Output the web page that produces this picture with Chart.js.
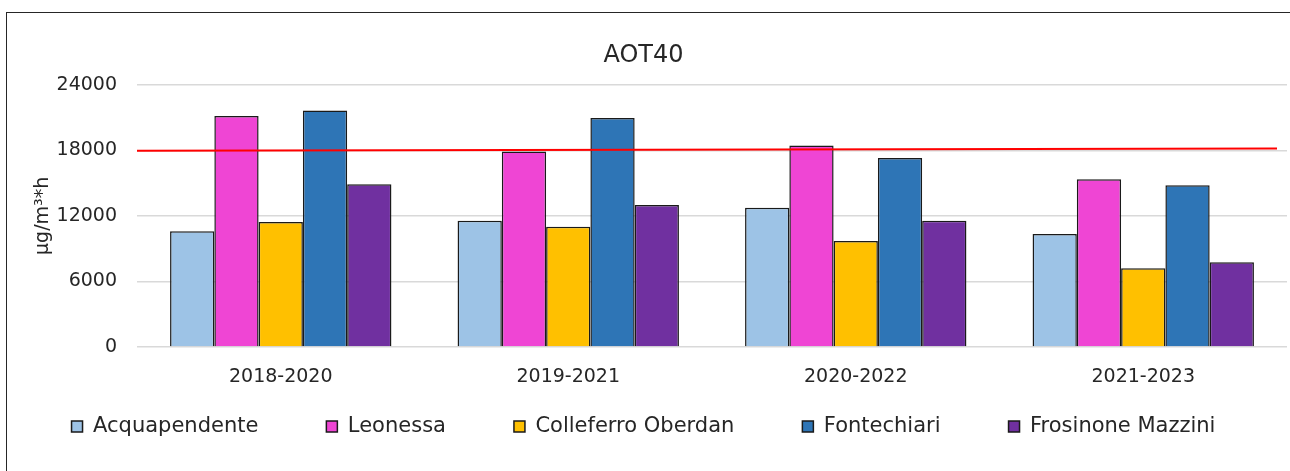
<!DOCTYPE html>
<html>
<head>
<meta charset="utf-8">
<script src="https://cdn.jsdelivr.net/npm/chart.js@4/dist/chart.umd.min.js"></script>
<style>
    body { margin: 0; background: #fff; }
    #marco { position: absolute; left: 0; top: 0; width: 1290px; height: 471px; overflow: hidden; }
    #borde { position: absolute; left: 6px; top: 12px; width: 1300px; height: 500px; border: 1.5px solid #262626; }
    canvas { position: absolute; left: 0; top: 0; }
</style>
</head>
<body>
<div id="marco">
    <div id="borde"></div>
    <canvas id="grafico" width="1290" height="471"></canvas>
</div>
<script>
// Datos AOT40 (µg/m³*h) por trienio
const periodos = ['2018-2020', '2019-2021', '2020-2022', '2021-2023'];
const acquapendente = [10600, 11550, 12750, 10350];
const leonessa = [21150, 17900, 18450, 15350];
const colleferroOberdan = [11450, 11000, 9700, 7200];
const fontechiari = [21650, 20950, 17300, 14800];
const frosinoneMazzini = [14900, 13000, 11550, 7750];
// Valor objetivo (línea roja): inicio y fin
const sogliaY = [17970, 18160];
const ticksY = [0, 6000, 12000, 18000, 24000];

const fuente = "'DejaVu Sans', sans-serif";

function serie(nombre, datos, color) {
    return {
        label: nombre,
        data: datos,
        backgroundColor: color,
        borderColor: '#1a1a1a',
        borderWidth: 1.5,
        categoryPercentage: 0.77,
        barPercentage: 1.0
    };
}

// Línea roja de la soglia, dibujada con la escala y
const lineaSoglia = {
    id: 'lineaSoglia',
    afterDatasetsDraw(chart) {
        const { ctx, chartArea, scales } = chart;
        ctx.save();
        ctx.strokeStyle = '#ff0000';
        ctx.lineWidth = 2;
        ctx.beginPath();
        ctx.moveTo(chartArea.left, scales.y.getPixelForValue(sogliaY[0]));
        ctx.lineTo(chartArea.right - 10, scales.y.getPixelForValue(sogliaY[1]));
        ctx.stroke();
        ctx.restore();
    }
};

// La leyenda usa el mismo padding en vertical; se sube y se agranda su caja
const subirLeyenda = {
    id: 'subirLeyenda',
    afterLayout(chart) {
        const l = chart.legend;
        l.top = chart.chartArea.bottom + 1;
        l.height = 110;
        l.bottom = l.top + l.height;
    }
};

const ctx = document.getElementById('grafico').getContext('2d');
new Chart(ctx, {
    type: 'bar',
    data: {
        labels: periodos,
        datasets: [
            serie('Acquapendente', acquapendente, '#9dc3e6'),
            serie('Leonessa', leonessa, '#ef45d4'),
            serie('Colleferro Oberdan', colleferroOberdan, '#ffc000'),
            serie('Fontechiari', fontechiari, '#2e75b6'),
            serie('Frosinone Mazzini', frosinoneMazzini, '#7030a0')
        ]
    },
    plugins: [lineaSoglia, subirLeyenda],
    options: {
        responsive: false,
        animation: false,
        layout: { padding: { left: 0, right: 3, top: 41, bottom: 20 } },
        plugins: {
            title: {
                display: true,
                text: 'AOT40',
                color: '#262626',
                font: { family: fuente, size: 24, weight: 'normal' },
                padding: { top: 0, bottom: 15 }
            },
            legend: {
                position: 'bottom',
                maxHeight: 60,
                labels: {
                    color: '#262626',
                    font: { family: fuente, size: 21 },
                    boxWidth: 11,
                    boxHeight: 11,
                    padding: 68
                }
            },
            tooltip: { enabled: false }
        },
        scales: {
            x: {
                grid: { display: false, drawTicks: false },
                border: { display: false },
                afterFit: scale => { scale.height = 44; },
                ticks: { color: '#262626', font: { family: fuente, size: 19 }, padding: 19 }
            },
            y: {
                min: 0,
                max: 24000,
                afterBuildTicks: scale => { scale.ticks = ticksY.map(v => ({ value: v })); },
                afterFit: scale => { scale.width = 137; },
                grid: { color: '#d9d9d9', lineWidth: 1.5, drawTicks: false },
                border: { display: false },
                ticks: {
                    color: '#262626',
                    font: { family: fuente, size: 19 },
                    padding: 20,
                    callback: v => String(v)
                },
                title: {
                    display: true,
                    text: 'µg/m³*h',
                    color: '#262626',
                    font: { family: fuente, size: 19 },
                    padding: { top: 32, bottom: 0 }
                }
            }
        }
    }
});
</script>
</body>
</html>
